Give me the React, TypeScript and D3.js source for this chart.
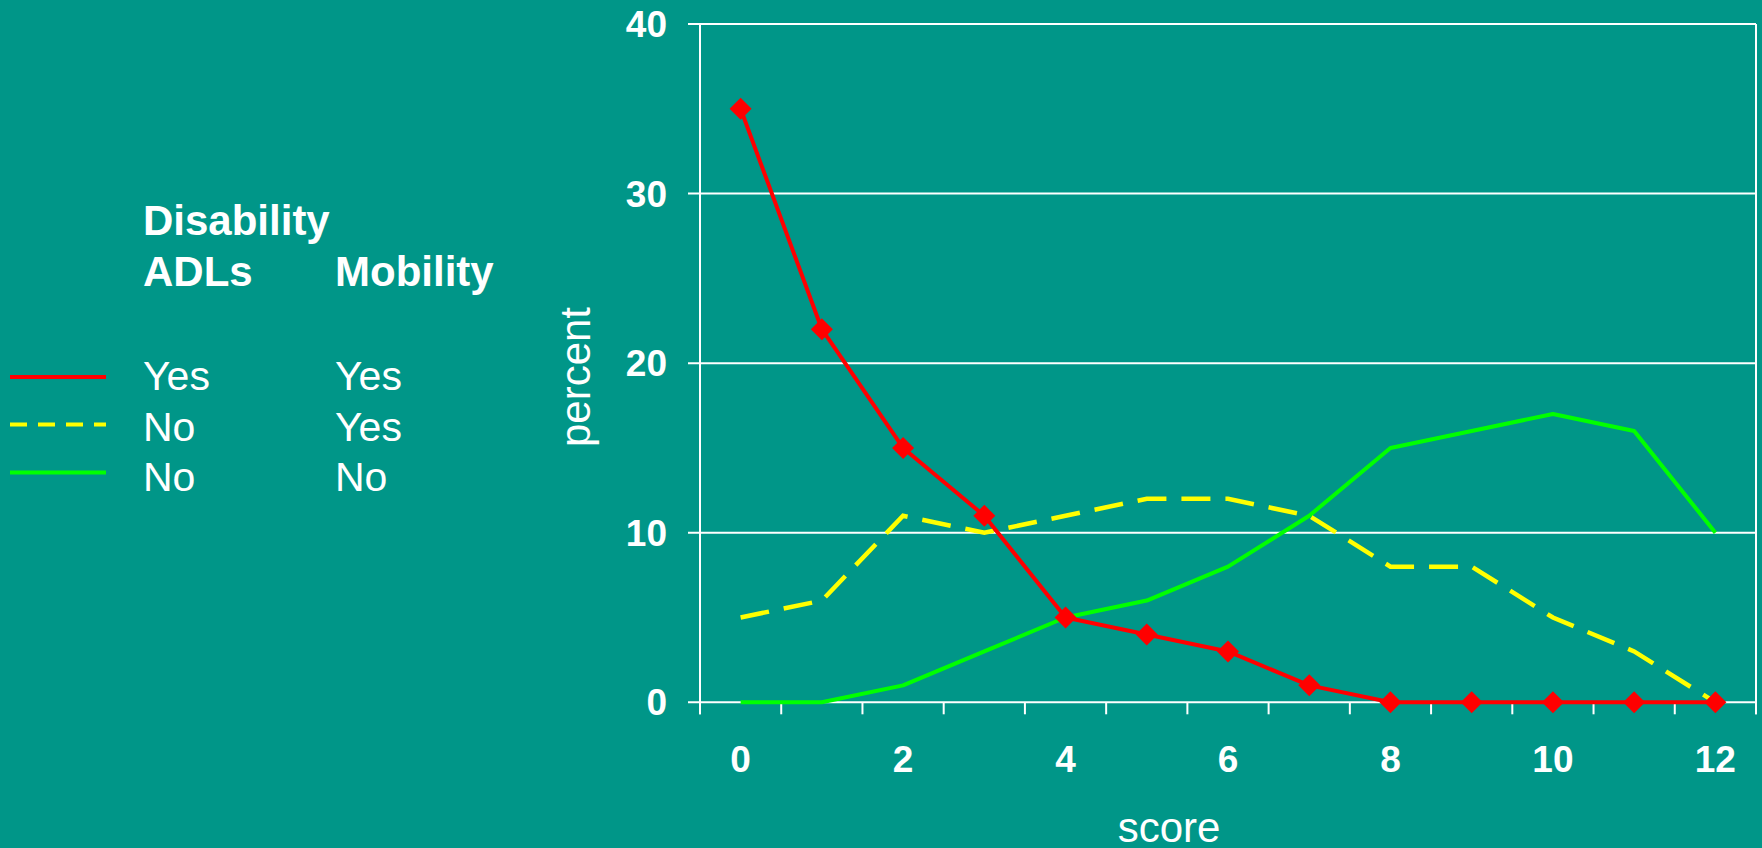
import React from "react";
import * as d3 from "d3";

// Score categories on the x axis
const scores: number[] = [0, 1, 2, 3, 4, 5, 6, 7, 8, 9, 10, 11, 12];
const scoreTickLabels: number[] = [0, 2, 4, 6, 8, 10, 12];
const percentTicks: number[] = [0, 10, 20, 30, 40];

// Percent of people at each score, by disability group
const adlYesMobYes: number[] = [35, 22, 15, 11, 5, 4, 3, 1, 0, 0, 0, 0, 0];
const adlNoMobYes: number[] = [5, 6, 11, 10, 11, 12, 12, 11, 8, 8, 5, 3, 0];
const adlNoMobNo: number[] = [0, 0, 1, 3, 5, 6, 8, 11, 15, 16, 17, 16, 10];

// Legend rows: [ADLs, Mobility]
const legendRows: { adl: string; mob: string }[] = [
  { adl: "Yes", mob: "Yes" },
  { adl: "No", mob: "Yes" },
  { adl: "No", mob: "No" },
];

const W = 1762;
const H = 848;
const BG = "#009688";
const FONT = "'Liberation Sans', Arial, Helvetica, sans-serif";

const plot = { left: 700, right: 1756, top: 24, bottom: 702.3 };

export default function App() {
  const x = d3
    .scaleBand<number>()
    .domain(scores)
    .range([plot.left, plot.right])
    .paddingInner(0)
    .paddingOuter(0);
  const y = d3.scaleLinear().domain([0, 40]).range([plot.bottom, plot.top]);
  const cx = (s: number) => (x(s) as number) + x.bandwidth() / 2;

  const line = d3
    .line<number>()
    .x((_, i) => cx(scores[i]))
    .y((v) => y(v));

  const diamond = (px: number, py: number, r: number) =>
    `M${px},${py - r}L${px + r},${py}L${px},${py + r}L${px - r},${py}Z`;

  // Category boundaries for the x-axis tick marks
  const boundaries = scores.map((s) => x(s) as number).concat([plot.right]);

  const legendLines = [
    { color: "#FF0000", dash: undefined as string | undefined, y: 377 },
    { color: "#FFFF00", dash: "17 11", y: 424.5 },
    { color: "#00FF00", dash: undefined as string | undefined, y: 472.5 },
  ];
  const legendBaselines = [389.5, 440.5, 491];

  return (
    <svg
      width={W}
      height={H}
      viewBox={`0 0 ${W} ${H}`}
      style={{ position: "fixed", left: 0, top: 0, display: "block" }}
      fontFamily={FONT}
    >
      <rect x={0} y={0} width={W} height={H} fill={BG} />

      {/* Horizontal gridlines and y ticks */}
      {percentTicks.map((t) => (
        <g key={`g${t}`}>
          <line
            x1={688}
            x2={plot.right}
            y1={y(t)}
            y2={y(t)}
            stroke="#FFFFFF"
            strokeWidth={2}
          />
          <text
            x={667}
            y={y(t) + 13}
            fill="#FFFFFF"
            fontSize={37}
            fontWeight="bold"
            textAnchor="end"
          >
            {t}
          </text>
        </g>
      ))}

      {/* Plot frame: y axis and right border */}
      <line x1={plot.left} x2={plot.left} y1={plot.top} y2={plot.bottom + 12} stroke="#FFFFFF" strokeWidth={2} />
      <line x1={plot.right} x2={plot.right} y1={plot.top} y2={plot.bottom + 12} stroke="#FFFFFF" strokeWidth={2} />

      {/* x-axis tick marks between categories */}
      {boundaries.map((b, i) => (
        <line
          key={`xt${i}`}
          x1={b}
          x2={b}
          y1={plot.bottom}
          y2={plot.bottom + 12}
          stroke="#FFFFFF"
          strokeWidth={2}
        />
      ))}

      {scoreTickLabels.map((s) => (
        <text
          key={`xl${s}`}
          x={cx(s)}
          y={771.5}
          fill="#FFFFFF"
          fontSize={37}
          fontWeight="bold"
          textAnchor="middle"
        >
          {s}
        </text>
      ))}

      {/* Axis titles */}
      <text x={1169} y={842} fill="#FFFFFF" fontSize={42} textAnchor="middle">
        score
      </text>
      <text
        transform={`translate(590,377) rotate(-90)`}
        fill="#FFFFFF"
        fontSize={42}
        textAnchor="middle"
      >
        percent
      </text>

      {/* Series */}
      <path d={line(adlNoMobNo) || ""} fill="none" stroke="#00FF00" strokeWidth={4} strokeLinejoin="round" />
      <path
        d={line(adlNoMobYes) || ""}
        fill="none"
        stroke="#FFFF00"
        strokeWidth={4.5}
        strokeDasharray="29 15"
      />
      <path d={line(adlYesMobYes) || ""} fill="none" stroke="#FF0000" strokeWidth={4} strokeLinejoin="round" />
      {adlYesMobYes.map((v, i) => (
        <path key={`m${i}`} d={diamond(cx(scores[i]), y(v), 11)} fill="#FF0000" />
      ))}

      {/* Legend */}
      <g fill="#FFFFFF">
        <text x={143} y={235} fontSize={42} fontWeight="bold">
          Disability
        </text>
        <text x={143} y={286} fontSize={42} fontWeight="bold">
          ADLs
        </text>
        <text x={335} y={286} fontSize={42} fontWeight="bold">
          Mobility
        </text>
        {legendRows.map((r, i) => (
          <g key={`lr${i}`}>
            <text x={143} y={legendBaselines[i]} fontSize={41}>
              {r.adl}
            </text>
            <text x={335} y={legendBaselines[i]} fontSize={41}>
              {r.mob}
            </text>
          </g>
        ))}
      </g>
      {legendLines.map((l, i) => (
        <line
          key={`ll${i}`}
          x1={10}
          x2={106}
          y1={l.y}
          y2={l.y}
          stroke={l.color}
          strokeWidth={4}
          strokeDasharray={l.dash}
        />
      ))}
    </svg>
  );
}
